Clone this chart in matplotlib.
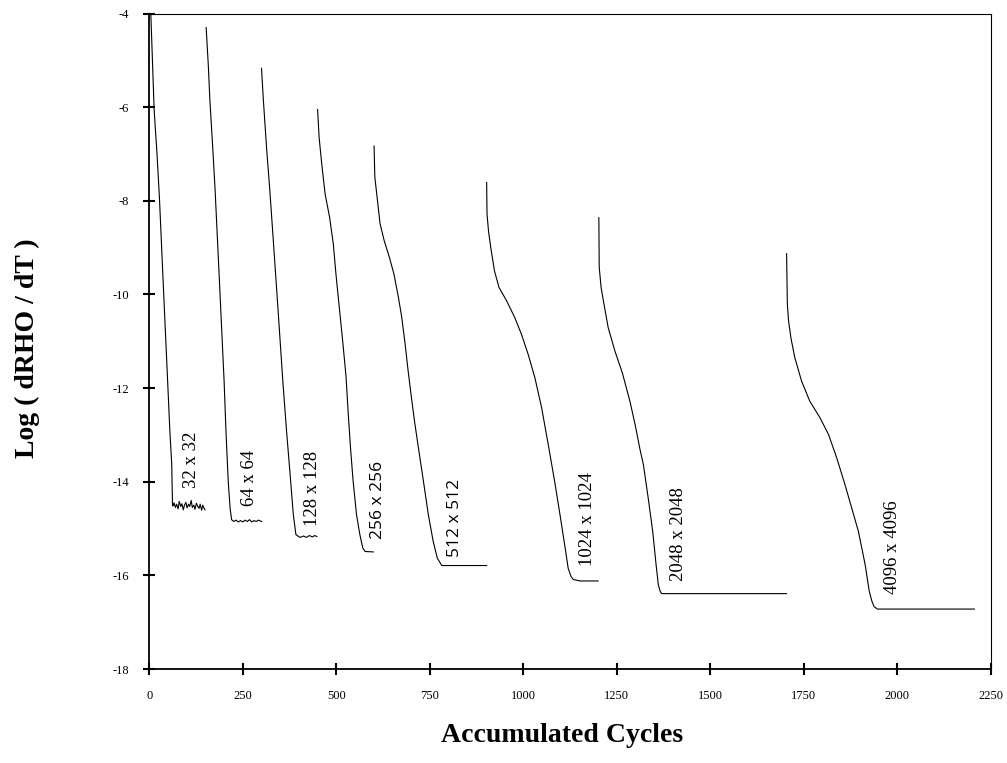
import matplotlib
matplotlib.use("Agg")
import matplotlib.pyplot as plt

# ---- data ----
x32 = [4, 9, 13, 20, 27, 38, 49, 55, 60, 62, 63, 66, 70, 73, 77, 80, 84, 87, 91, 94, 98, 101, 105, 108,
       112, 115, 119, 122, 126, 129, 133, 136, 140, 143, 146, 149]
y32 = [-4.0, -5.14, -6.07, -6.92, -7.92, -9.9, -11.85, -12.92, -13.63, -14.49, -14.52, -14.45, -14.55,
       -14.48, -14.58, -14.42, -14.53, -14.47, -14.60, -14.50, -14.44, -14.56, -14.48, -14.53, -14.40,
       -14.55, -14.50, -14.59, -14.46, -14.52, -14.57, -14.48, -14.61, -14.50, -14.56, -14.60]

x64 = [152, 158, 162, 170, 176, 188, 200, 205, 211, 216, 220, 226, 232, 238, 244, 250, 256, 262, 268,
       274, 280, 286, 292, 300]
y64 = [-4.30, -5.14, -5.85, -6.92, -7.78, -9.8, -11.85, -12.92, -13.99, -14.56, -14.81, -14.85, -14.82,
       -14.86, -14.83, -14.86, -14.82, -14.85, -14.81, -14.86, -14.83, -14.85, -14.82, -14.85]

x128 = [300, 305, 314, 322, 332, 344, 357, 367, 378, 385, 392, 403, 412, 420, 428, 436, 442, 448]
y128 = [-5.17, -5.85, -6.92, -7.75, -8.90, -10.30, -11.85, -12.92, -13.99, -14.70, -15.13, -15.19,
        -15.16, -15.19, -15.15, -15.18, -15.15, -15.17]

x256 = [450, 454, 461, 470, 482, 492, 499, 508, 517, 526, 532, 538, 545, 554, 563, 571, 577, 599]
y256 = [-6.05, -6.64, -7.21, -7.85, -8.35, -8.92, -9.56, -10.28, -10.99, -11.75, -12.56, -13.28, -13.99,
        -14.70, -15.13, -15.42, -15.49, -15.50]

x512 = [601, 603, 610, 617, 628, 642, 654, 666, 675, 684, 692, 700, 709, 720, 733, 746, 759, 770,
        782, 822, 902]
y512 = [-6.83, -7.49, -7.99, -8.49, -8.85, -9.21, -9.56, -10.06, -10.49, -11.06, -11.63, -12.15,
        -12.70, -13.30, -13.99, -14.70, -15.27, -15.63, -15.79, -15.79, -15.79]

x1024 = [902, 903, 907, 913, 923, 935, 955, 977, 995, 1013, 1031, 1049, 1069, 1085, 1098, 1112, 1120,
         1128, 1134, 1152, 1200]
y1024 = [-7.61, -8.28, -8.65, -9.0, -9.50, -9.85, -10.13, -10.49, -10.85, -11.28, -11.78, -12.42, -13.31,
         -14.05, -14.70, -15.42, -15.85, -16.03, -16.09, -16.12, -16.12]

x2048 = [1202, 1203, 1208, 1214, 1227, 1245, 1265, 1285, 1299, 1312, 1321, 1334, 1346, 1355, 1361,
         1366, 1370, 1704]
y2048 = [-8.36, -9.42, -9.85, -10.13, -10.71, -11.21, -11.68, -12.28, -12.78, -13.31, -13.63, -14.35,
         -15.06, -15.77, -16.20, -16.34, -16.39, -16.39]

x4096 = [1704, 1706, 1709, 1716, 1726, 1744, 1766, 1793, 1816, 1838, 1860, 1878, 1896, 1914, 1925,
         1932, 1938, 1947, 2206]
y4096 = [-9.13, -10.2, -10.55, -10.95, -11.35, -11.85, -12.28, -12.63, -12.99, -13.49, -14.06, -14.56,
         -15.06, -15.77, -16.34, -16.55, -16.67, -16.72, -16.72]

labels = ["32 x 32", "64 x 64", "128 x 128", "256 x 256", "512 x 512",
          "1024 x 1024", "2048 x 2048", "4096 x 4096"]
label_x = [113, 269, 437, 612, 817, 1171, 1414, 1988]
label_y = [-14.14, -14.52, -14.95, -15.23, -15.60, -15.81, -16.13, -16.39]
label_sans = [False, False, False, True, True, False, False, False]

xticks = [0, 250, 500, 750, 1000, 1250, 1500, 1750, 2000, 2250]
yticks = [-18, -16, -14, -12, -10, -8, -6, -4]

series = [(x32, y32), (x64, y64), (x128, y128), (x256, y256), (x512, y512),
          (x1024, y1024), (x2048, y2048), (x4096, y4096)]

plt.rcParams['font.family'] = ['Liberation Serif', 'DejaVu Serif']

W, H = 1007, 763
fig = plt.figure(figsize=(W / 100, H / 100), dpi=100)
ax = fig.add_axes([149.3 / W, 1 - 669 / H, (990.8 - 149.3) / W, (669 - 13.5) / H])

for xs, ys in series:
    ax.plot(xs, ys, color='black', lw=0.8)

for t, lx, ly, sans in zip(labels, label_x, label_y, label_sans):
    ax.text(lx, ly, t, rotation=90, rotation_mode='anchor', ha='left', va='center',
            fontsize=(12.5 if sans else 13.5),
            family=(['Open Sans', 'DejaVu Sans'] if sans else ['Liberation Serif']),
            color='black')

ax.set_xlim(0, 2250)
ax.set_ylim(-18, -4)
ax.set_xticks(xticks)
ax.set_yticks(yticks)
ax.set_xticklabels([str(v) for v in xticks])
ax.set_yticklabels([str(v) for v in yticks])
ax.tick_params(direction='inout', length=8.6, width=1.5, labelsize=9, pad=10.5,
               top=False, right=False)

for side in ['left', 'bottom']:
    ax.spines[side].set_linewidth(1.3)
for side in ['top', 'right']:
    ax.spines[side].set_linewidth(0.8)

ax.set_xlabel("Accumulated Cycles", fontsize=20, fontweight='bold', va='center')
ax.set_ylabel("Log ( dRHO / dT )", fontsize=20, fontweight='bold', va='center')
ax.xaxis.set_label_coords(0.49, -0.101)
ax.yaxis.set_label_coords(-0.145, 0.49)

fig.savefig("out.png", dpi=100)
